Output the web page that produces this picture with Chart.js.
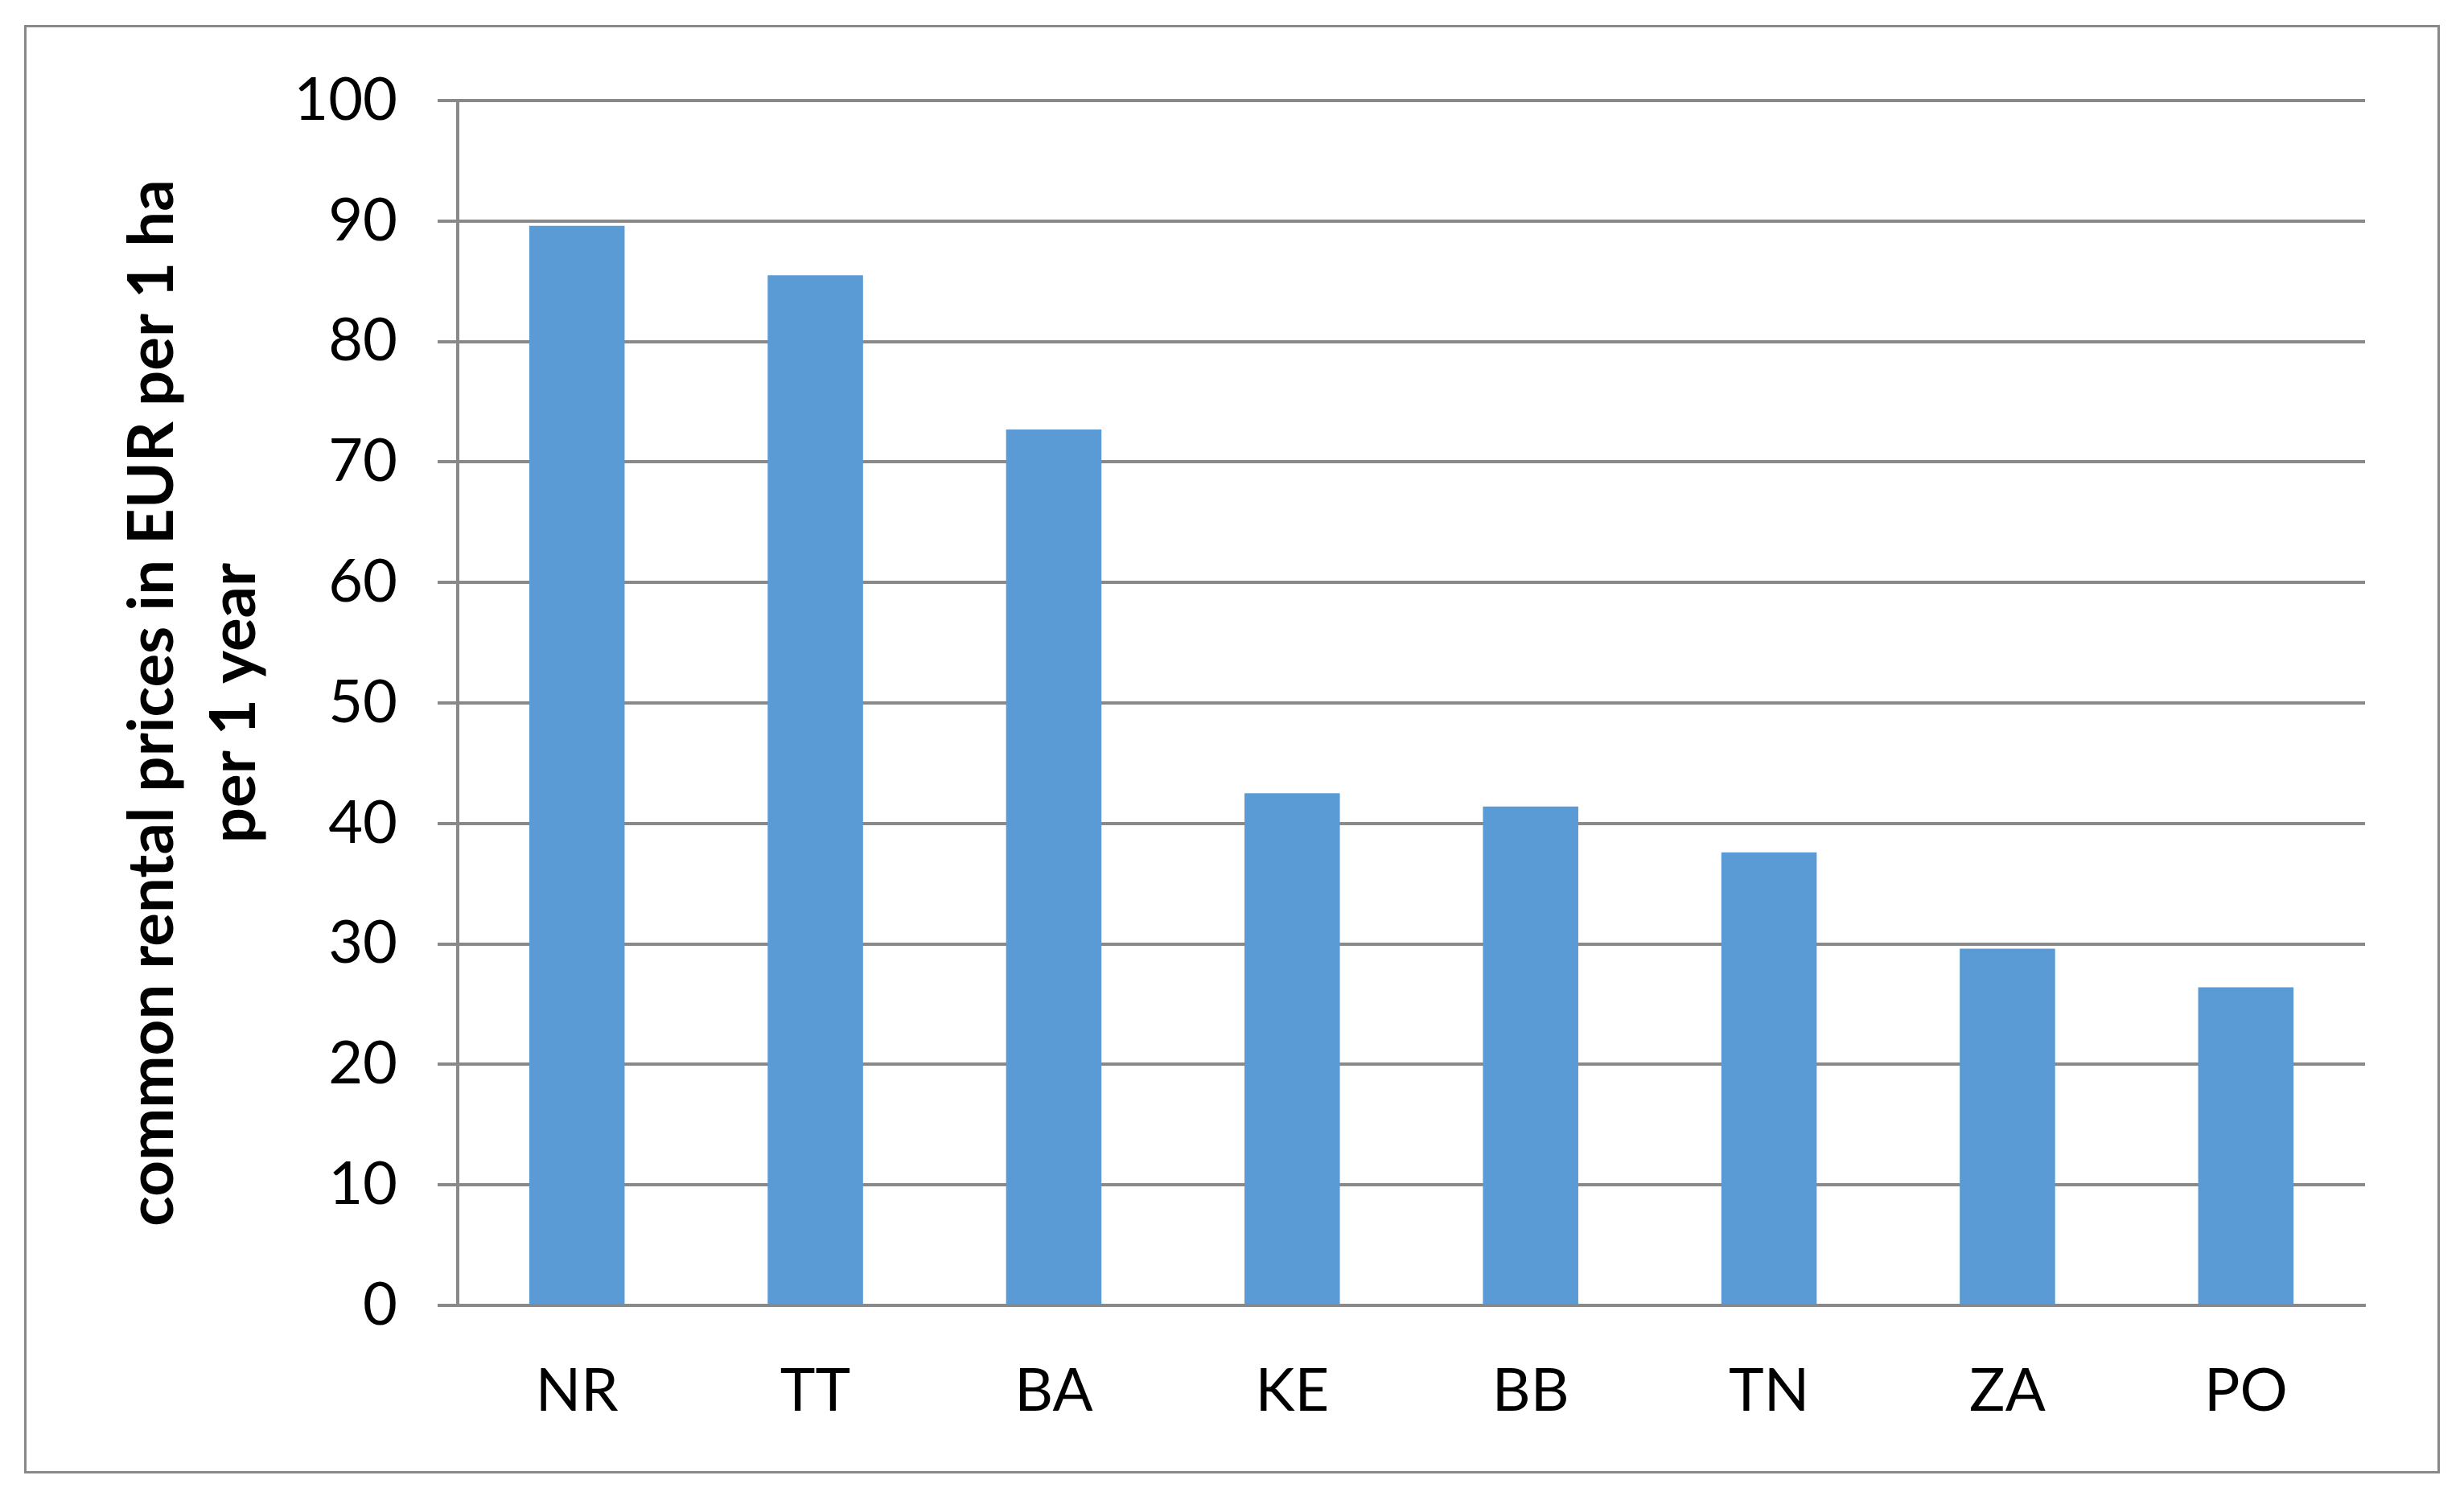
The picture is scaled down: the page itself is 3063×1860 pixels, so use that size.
<!DOCTYPE html>
<html>
<head>
<meta charset="utf-8">
<script src="https://cdn.jsdelivr.net/npm/chart.js@4"></script>
<style>
  html, body { margin: 0; padding: 0; background: #ffffff; }
  #wrap { width: 3063px; height: 1860px; }
</style>
</head>
<body>
<div id="wrap"><canvas id="c" width="3063" height="1860"></canvas></div>
<script>
const categories = ['NR', 'TT', 'BA', 'KE', 'BB', 'TN', 'ZA', 'PO'];
const rentalPrices = [89.6, 85.5, 72.7, 42.5, 41.4, 37.6, 29.6, 26.4];
const yTickValues = [0, 10, 20, 30, 40, 50, 60, 70, 80, 90, 100];
const yTitleLines = ['common rental prices in EUR per 1 ha', 'per 1 year'];

const GRID = '#898989';
const FONT = 'Lato, Carlito, "Open Sans", sans-serif';

const frame = {
  id: 'frame',
  beforeDraw(chart) {
    const ctx = chart.ctx;
    ctx.save();
    ctx.fillStyle = '#ffffff';
    ctx.fillRect(0, 0, chart.width, chart.height);
    ctx.restore();
  },
  afterDraw(chart) {
    const ctx = chart.ctx;
    ctx.save();
    ctx.strokeStyle = GRID;
    ctx.lineWidth = 3;
    ctx.strokeRect(31.5, 32.5, 3000, 1798);
    ctx.restore();
  }
};

new Chart(document.getElementById('c'), {
  type: 'bar',
  data: {
    labels: categories,
    datasets: [{
      data: rentalPrices,
      backgroundColor: '#5B9BD5',
      borderWidth: 0,
      categoryPercentage: 1.0,
      barPercentage: 0.4
    }]
  },
  options: {
    responsive: false,
    animation: false,
    devicePixelRatio: 1,
    layout: { padding: { left: 0, top: 125, right: 123, bottom: 0 } },
    plugins: { legend: { display: false }, tooltip: { enabled: false } },
    scales: {
      x: {
        grid: { display: false, drawTicks: false },
        border: { display: true, color: GRID, width: 4 },
        ticks: { color: '#000', padding: 63, font: { family: FONT, size: 74 } },
        afterFit(scale) { scale.height = 237; }
      },
      y: {
        min: 0,
        max: 100,
        afterBuildTicks(scale) { scale.ticks = yTickValues.map(v => ({ value: v })); },
        grid: { color: GRID, lineWidth: 4, drawTicks: true, tickLength: 25 },
        border: { display: true, color: GRID, width: 4 },
        ticks: { color: '#000', padding: 50, font: { family: FONT, size: 74 } },
        title: {
          display: true,
          text: yTitleLines,
          color: '#000',
          font: { family: FONT, size: 78, weight: 'bold', lineHeight: 102 / 78 },
          padding: { top: 139, bottom: 0 }
        },
        afterFit(scale) { scale.width = 569; }
      }
    }
  },
  plugins: [frame]
});
</script>
</body>
</html>
